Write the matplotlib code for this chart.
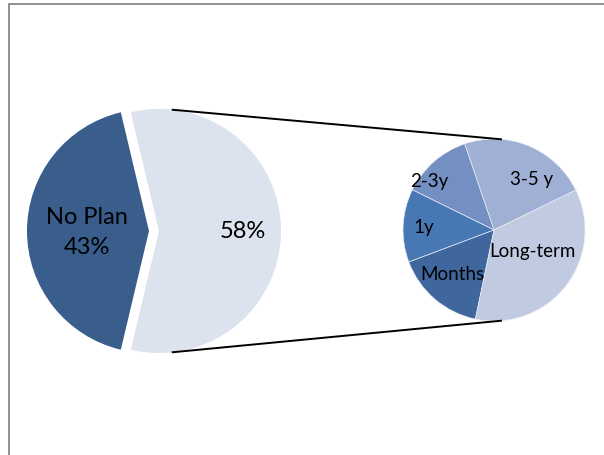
import numpy as np
import matplotlib.pyplot as plt
from matplotlib.patches import Rectangle

# 主饼图数据
main_labels = ['No Plan', '']
main_values = [43, 58]
main_colors = ['#3A5E8C', '#DCE2EE']

# 子饼图数据（58% 的细分）
sub_labels = ['3-5 y', '2-3y', '1y', 'Months', 'Long-term']
sub_values = [23, 12.5, 13, 16, 35.5]
sub_colors = ['#9FB0D4', '#7490C3', '#4878B4', '#3F679E', '#C0CAE1']

plt.rcParams['font.family'] = ['Lato', 'DejaVu Sans']

fig = plt.figure(figsize=(6.04, 4.56), dpi=100)
ax = fig.add_axes([0, 0, 1, 1])

# 外框
ax.add_patch(Rectangle((8.5, -20), 640, 471, fill=False, edgecolor='#878787', lw=1.3))

# 主饼图（explode 为数据单位）
main_c = (159, 224)
main_r = 122
start = 180 - main_values[0] / sum(main_values) * 360 / 2
ax.pie(main_values, colors=main_colors, startangle=start, center=main_c, radius=main_r,
       explode=[10, 0], frame=True, wedgeprops=dict(linewidth=0))

# 子饼图
sub_c = (494, 225)
sub_r = 91
ax.pie(sub_values, colors=sub_colors, startangle=26, center=sub_c, radius=sub_r,
       frame=True, wedgeprops=dict(edgecolor='#E8ECF4', linewidth=0.5))
ax.set_xlim(0, 604)
ax.set_ylim(0, 456)
ax.set_aspect('equal')
ax.axis('off')

# 连接线
for a1, a2 in [(84, 85), (-84, -85)]:
    x1 = main_c[0] + main_r * np.cos(np.radians(a1))
    y1 = main_c[1] + main_r * np.sin(np.radians(a1))
    x2 = sub_c[0] + sub_r * np.cos(np.radians(a2))
    y2 = sub_c[1] + sub_r * np.sin(np.radians(a2))
    ax.plot([x1, x2], [y1, y2], color='black', lw=1.4, solid_capstyle='butt')

# 标签
ax.text(87, 239, main_labels[0], ha='center', va='center', fontsize=17)
ax.text(87, 208, f'{main_values[0]}%', ha='center', va='center', fontsize=17)
ax.text(243, 224, f'{main_values[1]}%', ha='center', va='center', fontsize=17)

sub_pos = {'3-5 y': (532, 277), '2-3y': (429, 274), '1y': (424, 229),
           'Months': (452, 182), 'Long-term': (532, 205)}
for lab in sub_labels:
    x, y = sub_pos[lab]
    ax.text(x, y, lab, ha='center', va='center', fontsize=13.5)

fig.savefig('out.png', dpi=100)
